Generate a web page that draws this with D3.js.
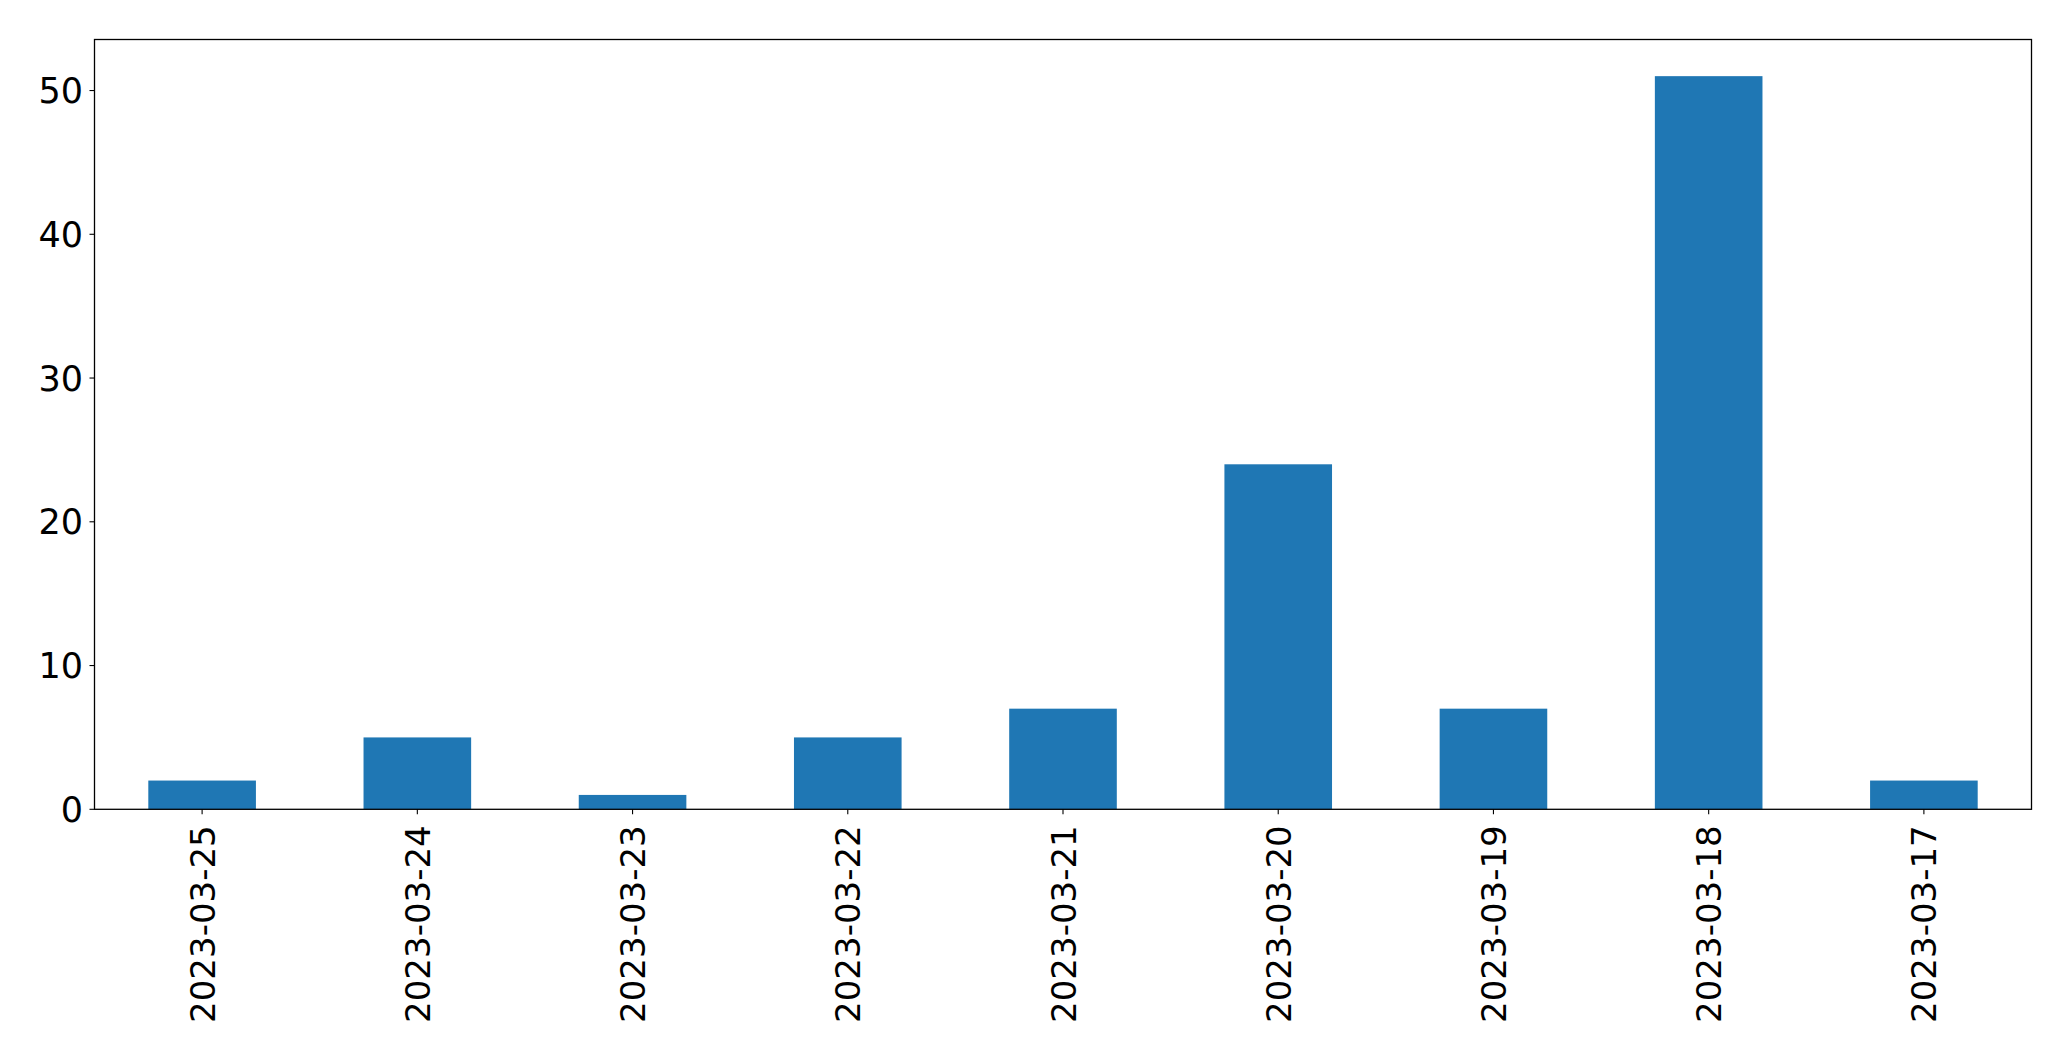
<!DOCTYPE html>
<html>
<head>
<meta charset="utf-8">
<script src="https://cdn.jsdelivr.net/npm/d3@7"></script>
<style>
html,body{margin:0;padding:0;background:#fff;}
svg{display:block;}
</style>
</head>
<body>
<script>
const categories = ["2023-03-25","2023-03-24","2023-03-23","2023-03-22","2023-03-21","2023-03-20","2023-03-19","2023-03-18","2023-03-17"];
const values = [2,5,1,5,7,24,7,51,2];
const yTicks = [0,10,20,30,40,50];

(function () {
const W = 2071, H = 1061;
const mLeft = 94.5, mRight = 2031.5, mTop = 39.5, mBottom = 809.3;

const svg = d3.select("body").append("svg").attr("width", W).attr("height", H);

const x = d3.scaleBand().domain(categories).range([mLeft, mRight]).paddingInner(0.5).paddingOuter(0.25);
const y = d3.scaleLinear().domain([0, d3.max(values) * 1.05]).range([mBottom, mTop]);

svg.append("g").selectAll("rect").data(values).join("rect")
  .attr("x", (d, i) => x(categories[i]))
  .attr("width", x.bandwidth())
  .attr("y", d => y(d))
  .attr("height", d => y(0) - y(d))
  .attr("fill", "#1f77b4");

// Y axis ticks
const yg = svg.append("g");
yg.selectAll("line").data(yTicks).join("line")
  .attr("x1", mLeft - 5).attr("x2", mLeft)
  .attr("y1", d => y(d)).attr("y2", d => y(d))
  .attr("stroke", "#000").attr("stroke-width", 1.1);
yg.selectAll("text").data(yTicks).join("text")
  .attr("x", mLeft - 11.5)
  .attr("y", d => y(d))
  .attr("dy", "0.36em")
  .attr("text-anchor", "end")
  .attr("font-family", "DejaVu Sans")
  .attr("font-size", 35)
  .attr("fill", "#000")
  .text(d => d);

// X axis ticks
const xg = svg.append("g");
xg.selectAll("line").data(categories).join("line")
  .attr("x1", d => x(d) + x.bandwidth() / 2).attr("x2", d => x(d) + x.bandwidth() / 2)
  .attr("y1", mBottom).attr("y2", mBottom + 5)
  .attr("stroke", "#000").attr("stroke-width", 1.1);
xg.selectAll("text").data(categories).join("text")
  .attr("transform", d => `translate(${x(d) + x.bandwidth() / 2 + 12.5},${mBottom + 16}) rotate(-90)`)
  .attr("text-anchor", "end")
  .attr("font-family", "DejaVu Sans")
  .attr("font-size", 34)
  .attr("fill", "#000")
  .text(d => d);

// Frame
svg.append("rect")
  .attr("x", mLeft).attr("y", mTop)
  .attr("width", mRight - mLeft).attr("height", mBottom - mTop)
  .attr("fill", "none").attr("stroke", "#000").attr("stroke-width", 1.3);
})();
</script>
</body>
</html>
